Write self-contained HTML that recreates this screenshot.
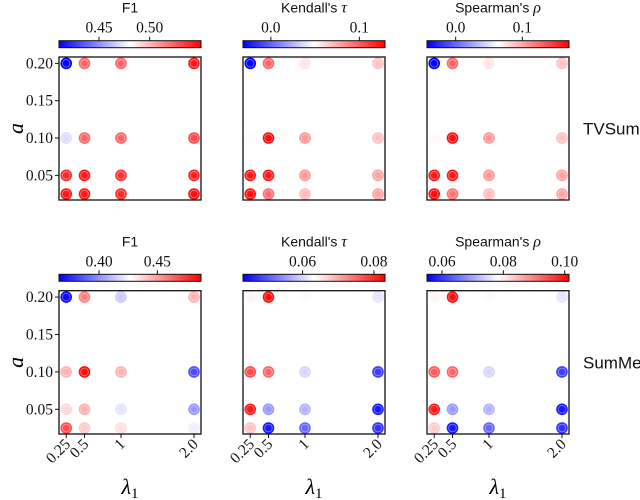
<!DOCTYPE html>
<html><head><meta charset="utf-8">
<style>
body{margin:0;background:#fff;}
svg{display:block;}
.tk{font-family:"Liberation Serif",serif;font-size:15.5px;fill:#111;}
.tt{font-family:"Liberation Sans","DejaVu Sans",sans-serif;font-size:14px;fill:#111;}
</style></head>
<body>
<svg id="chart" width="640" height="500" viewBox="0 0 640 500" xmlns="http://www.w3.org/2000/svg">
<defs>
<linearGradient id="bwr" x1="0" x2="1" y1="0" y2="0">
<stop offset="0" stop-color="#0000ff"/><stop offset="0.5" stop-color="#ffffff"/><stop offset="1" stop-color="#ff0000"/>
</linearGradient>
</defs>
</svg>
<script>
// Grid categories
const lambdas = [0.25, 0.5, 1, 2];
const alphas = [0.2, 0.1, 0.05, 0.025];
const xTickLabels = ["0.25", "0.5", "1", "2.0"];
const yTicks = [0.2, 0.15, 0.1, 0.05];
const yTickLabels = ["0.20", "0.15", "0.10", "0.05"];
const rowLabels = ["TVSum", "SumMe"];
const metricTitles = ["F1", "Kendall's ", "Spearman's "];
const metricSymbols = ["", "τ", "ρ"];
// values per panel, rows = alphas (0.2,0.1,0.05,0.025), cols = lambdas
const tvsumF1 = [[0.410,0.523,0.523,0.544],[0.471,0.523,0.523,0.530],[0.539,0.544,0.537,0.541],[0.544,0.544,0.539,0.546]];
const tvsumKendall = [[-0.031,0.097,0.057,0.068],[0.050,0.124,0.081,0.068],[0.121,0.121,0.081,0.078],[0.124,0.094,0.070,0.078]];
const tvsumSpearman = [[-0.043,0.127,0.074,0.089],[0.066,0.164,0.106,0.089],[0.159,0.159,0.106,0.102],[0.164,0.123,0.091,0.102]];
const summeF1 = [[0.368,0.457,0.414,0.445],[0.445,0.484,0.445,0.384],[0.436,0.445,0.420,0.402],[0.469,0.439,0.434,0.423]];
const summeKendall = [[0.0640,0.0819,0.0628,0.0612],[0.0771,0.0751,0.0600,0.0481],[0.0811,0.0552,0.0572,0.0453],[0.0680,0.0453,0.0513,0.0473]];
const summeSpearman = [[0.0792,0.1000,0.0778,0.0759],[0.0931,0.0921,0.0745,0.0607],[0.0991,0.0690,0.0713,0.0574],[0.0829,0.0574,0.0644,0.0597]];
// color limits
const vmins = [[0.4105,-0.0315,-0.043],[0.3657,0.0433,0.0551]];
const vmaxs = [[0.5507,0.129,0.170],[0.4874,0.0831,0.1014]];
const cbTicks = [[[0.45,0.50],[0.0,0.1],[0.0,0.1]],[[0.40,0.45],[0.06,0.08],[0.06,0.08,0.10]]];
const cbTickLabels = [[["0.45","0.50"],["0.0","0.1"],["0.0","0.1"]],[["0.40","0.45"],["0.06","0.08"],["0.06","0.08","0.10"]]];

const data = [[tvsumF1,tvsumKendall,tvsumSpearman],[summeF1,summeKendall,summeSpearman]];
const svg = document.getElementById('chart');
const NS = "http://www.w3.org/2000/svg";
function mk(tag, attrs, parent){const e=document.createElementNS(NS,tag);for(const k in attrs)e.setAttribute(k,attrs[k]);(parent||svg).appendChild(e);return e;}

const panelX = [59, 243, 427], panelW = 142;
const rowTop = [57, 290.7], rowBot = [200, 434];
const cbY = [40.7, 274.3], cbH = 7;
const LMIN = 0.151, LMAX = 2.096, AMIN = 0.017, AMAX = 0.2085;

function bwr(t){
  t = Math.max(0, Math.min(1, t));
  let r,g,b;
  if(t < 0.5){const s=t/0.5; r=Math.round(255*s); g=r; b=255;}
  else {const s=(t-0.5)/0.5; r=255; g=Math.round(255*(1-s)); b=g;}
  return `rgb(${r},${g},${b})`;
}

for(let row=0; row<2; row++){
  const top=rowTop[row], bot=rowBot[row];
  const ys = a => bot - (a-AMIN)/(AMAX-AMIN)*(bot-top);
  for(let p=0; p<3; p++){
    const x0 = panelX[p];
    const xs = l => x0 + (l-LMIN)/(LMAX-LMIN)*panelW;
    const g = mk('g', {});
    
    
    const vmin=vmins[row][p], vmax=vmaxs[row][p];
    const cb = mk('rect', {x:x0, y:cbY[row], width:panelW, height:cbH, fill:'url(#bwr)', stroke:'#111', 'stroke-width':1}, g);
    
    
    const cx = v => x0 + (v-vmin)/(vmax-vmin)*panelW;
    cbTicks[row][p].forEach((v,i)=>{
      const tx = cx(v);
      mk('line',{x1:tx,x2:tx,y1:cbY[row],y2:cbY[row]-4,stroke:'#111','stroke-width':1},g);
      const t = mk('text',{x:tx,y:cbY[row]-8,'text-anchor':'middle',class:'tk'},g);
      t.textContent = cbTickLabels[row][p][i];
      
      
    });
    const ttl = mk('text',{x:x0+panelW/2,y:cbY[row]-28,'text-anchor':'middle',class:'tt'},g);
    ttl.textContent = metricTitles[p];
    if(metricSymbols[p]){const ts=mk('tspan',{'font-family':'Liberation Serif, serif','font-style':'italic','font-size':'16px'},ttl);ts.textContent=metricSymbols[p];}
    
    
    const vals = data[row][p];
    alphas.forEach((a,i)=>{
      lambdas.forEach((l,j)=>{
        const v = vals[i][j];
        const c = bwr((v-vmin)/(vmax-vmin));
        const px=xs(l), py=ys(a);
        const pt = mk('circle',{cx:px,cy:py,r:5.8,fill:c},g);
        
        
        mk('circle',{cx:px,cy:py,r:3.8,fill:'none',stroke:'#fff','stroke-opacity':0.45,'stroke-width':0.8},g);
      });
    });
    const box = mk('rect',{x:x0,y:top,width:panelW,height:bot-top,fill:'none',stroke:'#111','stroke-width':1.3},g);
    
    
    if(p===0){
      yTicks.forEach((a,i)=>{
        const yy=ys(a);
        mk('line',{x1:x0,x2:x0-4,y1:yy,y2:yy,stroke:'#111','stroke-width':1},g);
        const t=mk('text',{x:x0-6,y:yy+5,'text-anchor':'end',class:'tk'},g);
        t.textContent=yTickLabels[i];
        
        
      });
      const yl=mk('text',{x:18,y:(top+bot)/2+5,'text-anchor':'middle','font-family':'Liberation Serif, serif','font-style':'italic','font-size':'22px',transform:`rotate(-90 18 ${(top+bot)/2})`},g);
      yl.textContent='a';
      
      
    }
    if(row===1){
      lambdas.forEach((l,j)=>{
        const xx=xs(l);
        mk('line',{x1:xx,x2:xx,y1:bot,y2:bot+4,stroke:'#111','stroke-width':1},g);
        const t=mk('text',{x:xx+5,y:bot+11,'text-anchor':'end',class:'tk',transform:`rotate(-45 ${xx+5} ${bot+11})`},g);
        t.textContent=xTickLabels[j];
        
        
      });
      const xl=mk('text',{x:x0+panelW/2,y:494,'text-anchor':'middle','font-family':'Liberation Serif, serif','font-style':'italic','font-size':'22px'},g);
      xl.textContent='λ';
      const sub=mk('tspan',{'font-style':'normal','font-size':'15px',dy:4},xl);
      sub.textContent='1';
      
      
    }
  }
  const rl=mk('text',{x:583,y:(top+bot)/2+6,'font-family':'Liberation Sans, sans-serif','font-size':'17px',fill:'#111'});
  rl.textContent=rowLabels[row];
  
  
}
</script>
</body></html>
